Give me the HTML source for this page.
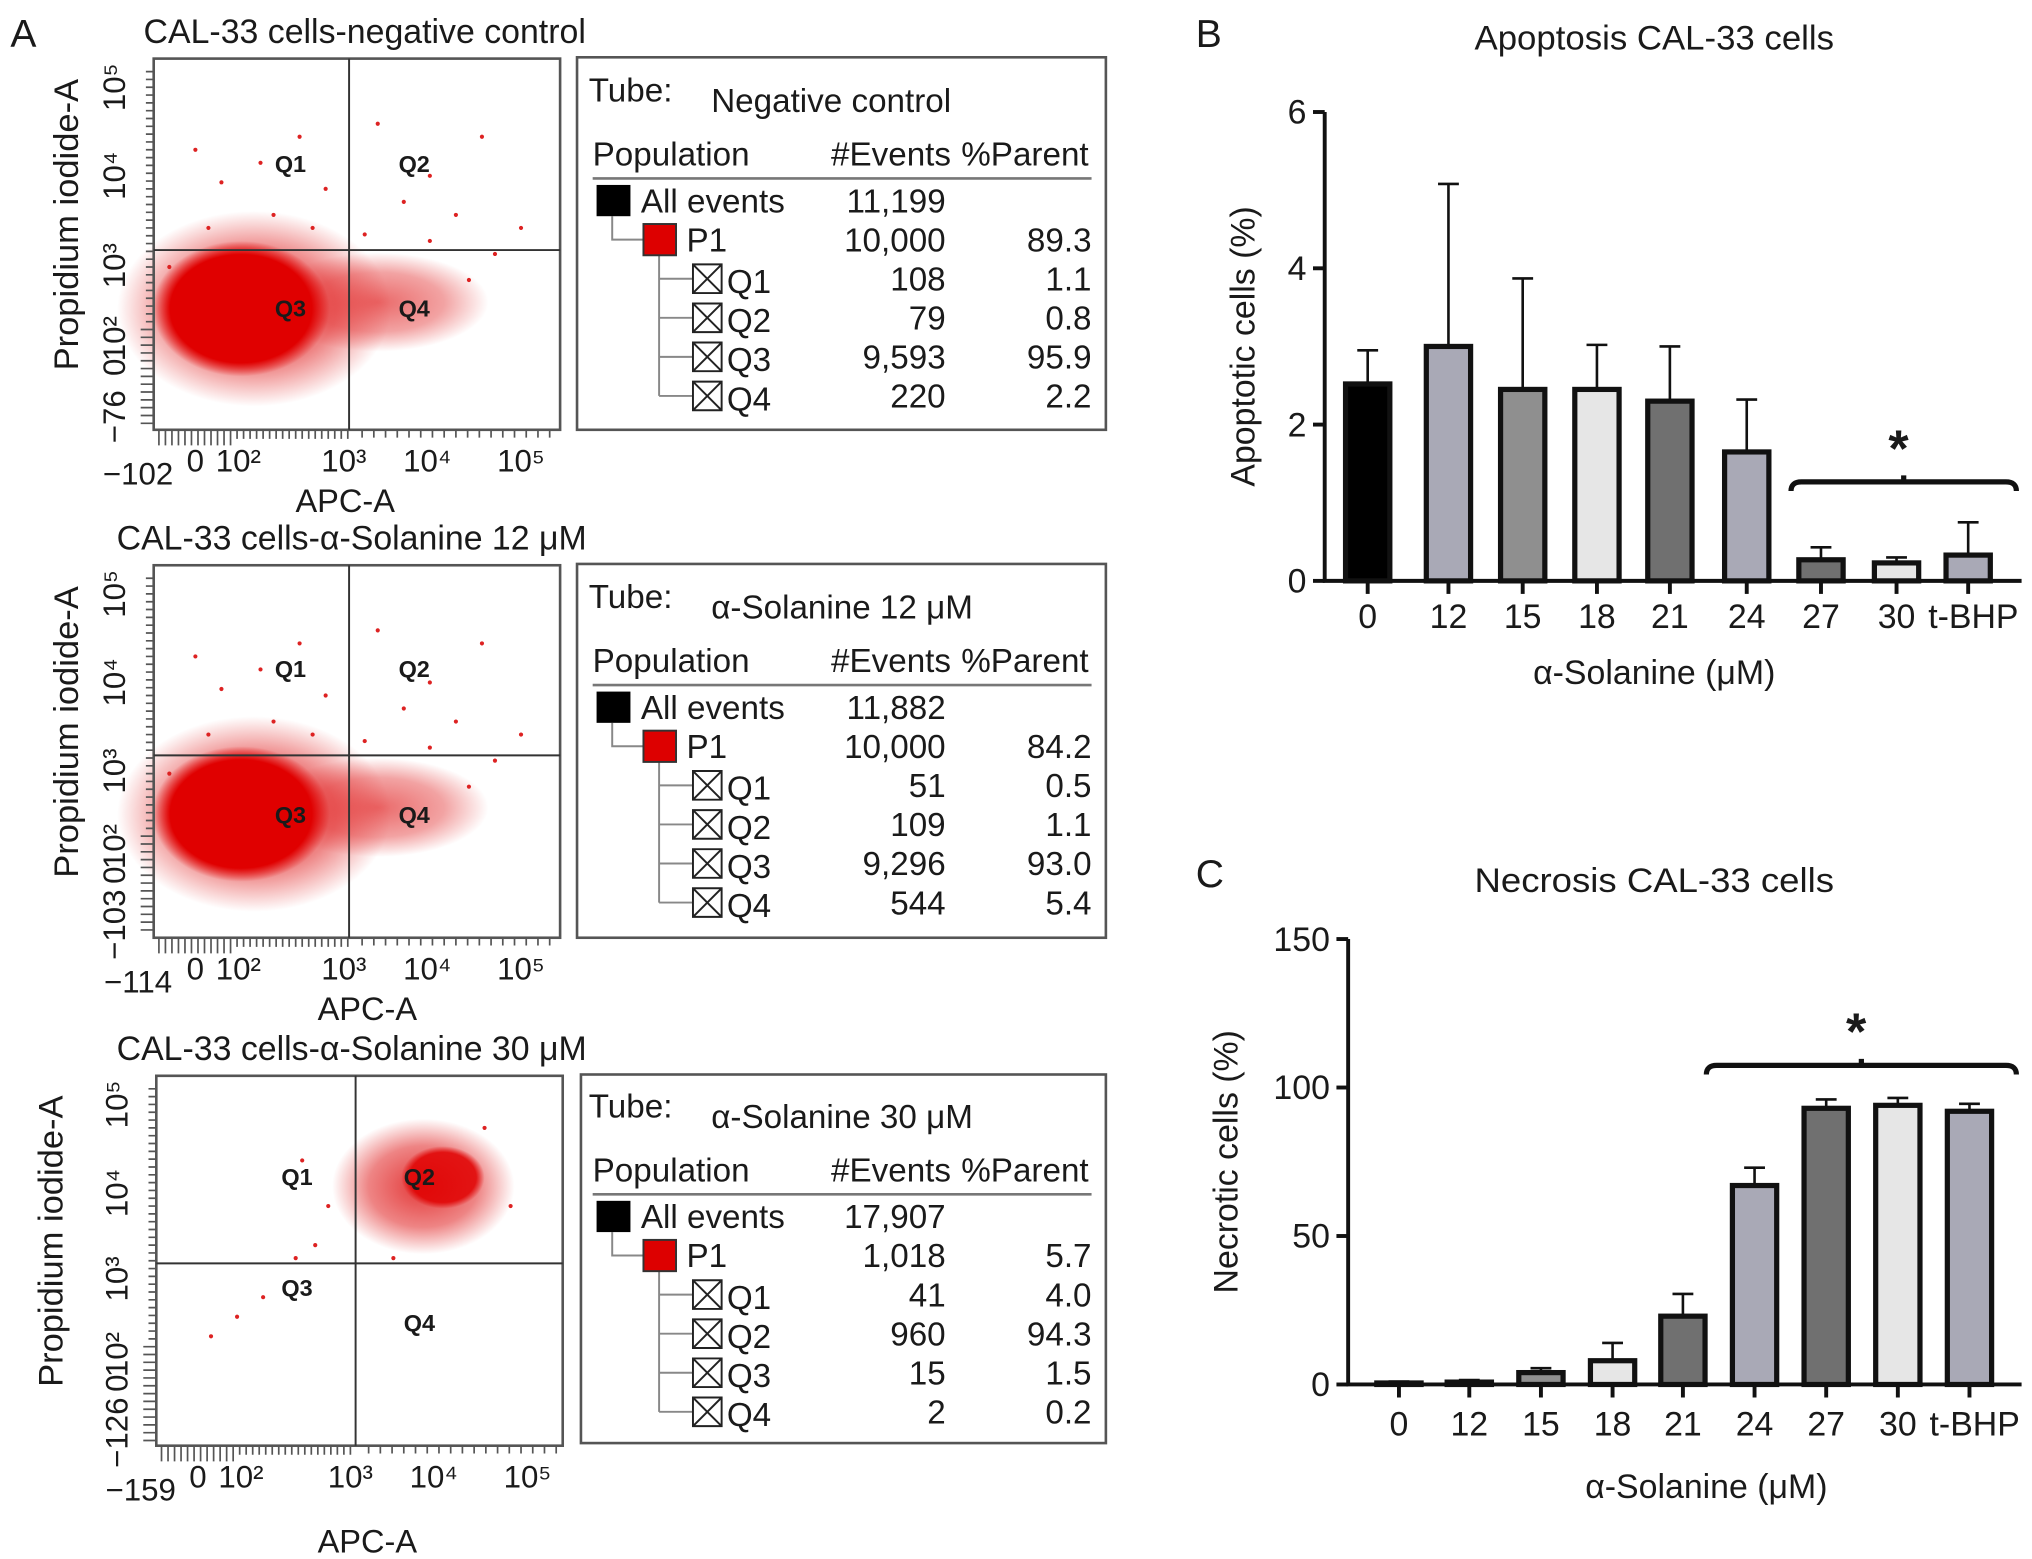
<!DOCTYPE html>
<html><head><meta charset="utf-8"><style>
html,body{margin:0;padding:0;background:#fff;width:2032px;height:1559px;overflow:hidden}
svg{display:block}
text{font-family:"Liberation Sans",Arial,sans-serif;fill:#1a1a1a}
</style></head><body>
<svg id="fig" width="2032" height="1559" viewBox="0 0 1560 1197" preserveAspectRatio="none">
<defs>
<radialGradient id="blob" cx="50%" cy="50%" r="50%">
<stop offset="0" stop-color="#e00000" stop-opacity="1"/>
<stop offset="0.8" stop-color="#e00000" stop-opacity="1"/>
<stop offset="1" stop-color="#e00000" stop-opacity="0"/>
</radialGradient>
<radialGradient id="blob2" cx="50%" cy="50%" r="50%">
<stop offset="0" stop-color="#e02020" stop-opacity="0.9"/>
<stop offset="0.6" stop-color="#e02020" stop-opacity="0.55"/>
<stop offset="1" stop-color="#e02020" stop-opacity="0"/>
</radialGradient>
</defs>
<text x="8" y="36" font-size="30">A</text>
<text x="918" y="36" font-size="30">B</text>
<text x="918" y="681" font-size="30">C</text>
<g id="flows"></g>
<g id="chartB"></g>
<g id="chartC"></g>
</svg>
<script>
const NS='http://www.w3.org/2000/svg';
function mk(parent,tag,attrs,txt){const e=document.createElementNS(NS,tag);for(const k in attrs)e.setAttribute(k,attrs[k]);if(txt!==undefined)e.textContent=txt;parent.appendChild(e);return e;}

// ---------- Bar chart data ----------
const categories=['0','12','15','18','21','24','27','30','t-BHP'];
const apoptosisValues=[2.52,3.0,2.45,2.45,2.3,1.65,0.27,0.23,0.33];
const apoptosisErrors=[0.43,2.08,1.42,0.57,0.7,0.67,0.16,0.07,0.42];
const apoptosisTicks=[0,2,4,6];
const necrosisValues=[0.5,0.8,4,8,23,67,93,94,92];
const necrosisErrors=[0.5,0.7,1.5,6,7.5,6,3,2.5,2.5];
const necrosisTicks=[0,50,100,150];
const barColors=['#000000','#a9a9b6','#8f8f8f','#e6e6e6','#707070','#a9a9b6','#707070','#e6e6e6','#a9a9b6'];

function barChart(g,cfg){
  const {x0,x1,yBase,yTop,max,ticks,vals,errs,centers,title,titleX,titleY,ylab,ylabX,xlab,xlabX,xlabY,tickY,br,name}=cfg;
  const ys=v=>yBase-(v/max)*(yBase-yTop);
  const t=mk(g,'text',{x:titleX,y:titleY,'font-size':26.5,'text-anchor':'middle',textLength:276,lengthAdjust:'spacingAndGlyphs'},title);
  
  
  const yl=mk(g,'text',{x:0,y:0,'font-size':26,'text-anchor':'middle',transform:`translate(${ylabX},${(yBase+yTop)/2}) rotate(-90)`},ylab);
  
  
  const xl=mk(g,'text',{x:xlabX,y:xlabY,'font-size':26,'text-anchor':'middle'},xlab);
  
  
  const ax=mk(g,'path',{d:`M${x0},${yTop} V${yBase} H${x1}`,stroke:'#111','stroke-width':3,fill:'none'});
  
  
  ticks.forEach(tv=>{
    const y=ys(tv);
    mk(g,'line',{x1:x0-9,x2:x0,y1:y,y2:y,stroke:'#111','stroke-width':3});
    const tl=mk(g,'text',{x:x0-14,y:y+9,'font-size':26,'text-anchor':'end'},String(tv));
    
    
  });
  categories.forEach((c,i)=>{
    const cx=centers[i],v=vals[i],e=errs[i],w=34;
    const ey=ys(v+e);
    const eb=mk(g,'path',{d:`M${cx},${ys(v)} V${ey} M${cx-8},${ey} H${cx+8}`,stroke:'#111','stroke-width':2,fill:'none'});
    
    
    const r=mk(g,'rect',{x:cx-w/2,y:ys(v),width:w,height:yBase-ys(v),fill:barColors[i],stroke:'#111','stroke-width':4});
    
    
    mk(g,'line',{x1:cx,x2:cx,y1:yBase,y2:yBase+10,stroke:'#111','stroke-width':3});
    const tl=mk(g,'text',{x:cx+(c==='t-BHP'?4:0),y:tickY,'font-size':26,'text-anchor':'middle'},c);
    
    
  });
  const b=mk(g,'path',{d:`M${br[0]},${br[2]+7} Q${br[0]},${br[2]} ${br[0]+8},${br[2]} H${br[1]-8} Q${br[1]},${br[2]} ${br[1]},${br[2]+7} M${(br[0]+br[1])/2},${br[2]} v-5`,stroke:'#111','stroke-width':4,fill:'none'});
  
  
  const s=mk(g,'text',{x:(br[0]+br[1])/2-4,y:br[2]-12,'font-size':40,'font-weight':'bold','text-anchor':'middle'},'*');
  
  
}
barChart(document.getElementById('chartB'),{x0:1017,x1:1552,yBase:446,yTop:86,max:6,ticks:apoptosisTicks,vals:apoptosisValues,errs:apoptosisErrors,
 centers:[1050,1112,1169,1226,1282,1341,1398,1456,1511],title:'Apoptosis CAL-33 cells',titleX:1270,titleY:38,ylab:'Apoptotic cells (%)',ylabX:963,
 xlab:'α-Solanine (μM)',xlabX:1270,xlabY:525,tickY:482,br:[1375,1548,370],name:'apoptosis'});
barChart(document.getElementById('chartC'),{x0:1035,x1:1552,yBase:1063,yTop:721,max:150,ticks:necrosisTicks,vals:necrosisValues,errs:necrosisErrors,
 centers:[1074,1128,1183,1238,1292,1347,1402,1457,1512],title:'Necrosis CAL-33 cells',titleX:1270,titleY:685,ylab:'Necrotic cells (%)',ylabX:950,
 xlab:'α-Solanine (μM)',xlabX:1310,xlabY:1150,tickY:1102,br:[1310,1548,818],name:'necrosis'});

// ---------- Flow cytometry panels ----------
const flowPanels=[
 {oy:0,title:'CAL-33 cells-negative control',tube:'Negative control',box:[118,45,430,330],vx:268,hy:192,yneg:'−76',xneg:'−102',
  rows:[['All events','11,199',''],['P1','10,000','89.3'],['Q1','108','1.1'],['Q2','79','0.8'],['Q3','9,593','95.9'],['Q4','220','2.2']],tbl:[443,44,849,330],cloud:'low',
  q:[[223,132],[318,132],[223,243],[318,243]]},
 {oy:389,title:'CAL-33 cells-α-Solanine 12 μM',tube:'α-Solanine 12 μM',box:[118,434,430,720],vx:268,hy:580,yneg:'−103',xneg:'−114',
  rows:[['All events','11,882',''],['P1','10,000','84.2'],['Q1','51','0.5'],['Q2','109','1.1'],['Q3','9,296','93.0'],['Q4','544','5.4']],tbl:[443,433,849,720],cloud:'low',
  q:[[223,520],[318,520],[223,632],[318,632]]},
 {oy:780,title:'CAL-33 cells-α-Solanine 30 μM',tube:'α-Solanine 30 μM',box:[120,826,432,1110],vx:273,hy:970,yneg:'−126',xneg:'−159',
  rows:[['All events','17,907',''],['P1','1,018','5.7'],['Q1','41','4.0'],['Q2','960','94.3'],['Q3','15','1.5'],['Q4','2','0.2']],tbl:[446,825,849,1108],cloud:'high',
  q:[[228,910],[322,910],[228,995],[322,1022]]}
];
const fg=document.getElementById('flows');
flowPanels.forEach((p,pi)=>{
  const g=mk(fg,'g',{});
  
  
  const [bx0,by0,bx1,by1]=p.box;
  const tt=mk(g,'text',{x:pi===0?280:270,y:by0-12,'font-size':26,'text-anchor':'middle'},p.title);
  
  
  if(p.cloud==='low'){
    const cy=p.hy+45;
    mk(g,'ellipse',{cx:290,cy:cy-5,rx:85,ry:38,fill:'url(#blob2)',opacity:0.75});
    mk(g,'ellipse',{cx:195,cy:cy,rx:105,ry:75,fill:'url(#blob2)'});
    mk(g,'ellipse',{cx:185,cy:cy,rx:68,ry:52,fill:'url(#blob)'});
  }else{
    mk(g,'ellipse',{cx:325,cy:by0+85,rx:70,ry:52,fill:'url(#blob2)'});
    mk(g,'ellipse',{cx:340,cy:by0+78,rx:32,ry:24,fill:'url(#blob)',opacity:0.85});
  }
  const dots=p.cloud==='low'?[[150,70],[170,95],[200,80],[230,60],[250,100],[290,50],[310,110],[330,90],[350,120],[370,60],[210,120],[240,130],[330,140],[360,170],[380,150],[400,130],[160,130],[130,160],[280,135]]
   :[[230,65],[250,100],[225,140],[180,185],[160,200],[200,170],[240,130],[300,140],[370,40],[390,100]];
  dots.forEach(d=>mk(g,'circle',{cx:bx0+d[0]-118,cy:by0+d[1],r:1.6,fill:'#d22'}));
  const bxr=mk(g,'rect',{x:bx0,y:by0,width:bx1-bx0,height:by1-by0,fill:'none',stroke:'#555','stroke-width':2});
  
  
  mk(g,'line',{x1:p.vx,x2:p.vx,y1:by0,y2:by1,stroke:'#333','stroke-width':1.5});
  mk(g,'line',{x1:bx0,x2:bx1,y1:p.hy,y2:p.hy,stroke:'#333','stroke-width':1.5});
  ['Q1','Q2','Q3','Q4'].forEach((qn,qi)=>{
    const t=mk(g,'text',{x:p.q[qi][0],y:p.q[qi][1],'font-size':18,'text-anchor':'middle','font-weight':'bold'},qn);
    
    
  });
  let tk='';
  for(let x=bx0+4;x<p.vx;x+=5) tk+=`M${x},${by1} v${(x<bx0+60)?12:7} `;
  for(let x=p.vx+10;x<bx1;x+=9) tk+=`M${x},${by1} v6 `;
  for(let y=by0+10;y<by1;y+=6) tk+=`M${bx0},${y} h-${(y>by1-80)?10:6} `;
  mk(g,'path',{d:tk,stroke:'#555','stroke-width':1.3});
  const yl=[[p.yneg,by1-10],['0',by1-48],['10²',by1-70],['10³',p.hy+12],['10⁴',by0+90],['10⁵',by0+22]];
  yl.forEach(l=>{const t=mk(g,'text',{x:0,y:0,'font-size':24,'text-anchor':'middle',transform:`translate(${bx0-22},${l[1]}) rotate(-90)`},l[0]);
    
    });
  const xls=[[p.xneg,bx0-12,by1+42],['0',bx0+32,by1+32],['10²',bx0+65,by1+32],['10³',p.vx-4,by1+32],['10⁴',p.vx+60,by1+32],['10⁵',p.vx+132,by1+32]];
  xls.forEach(l=>{const t=mk(g,'text',{x:l[1],y:l[2],'font-size':24,'text-anchor':'middle'},l[0]);
    
    });
  const xa=mk(g,'text',{x:pi===0?265:282,y:by1+(pi===2?82:63),'font-size':25,'text-anchor':'middle'},'APC-A');
  
  
  const ya=mk(g,'text',{x:0,y:0,'font-size':26.5,'text-anchor':'middle',transform:`translate(${pi===2?48:60},${(by0+by1)/2-15}) rotate(-90)`},'Propidium iodide-A');
  
  
  const [tx0,ty0,tx1,ty1]=p.tbl, oy=p.oy;
  const tb=mk(g,'rect',{x:tx0,y:ty0,width:tx1-tx0,height:ty1-ty0,fill:'#fff',stroke:'#555','stroke-width':2});
  
  
  const T=(s,x,y,a,fs,nm)=>{const t=mk(g,'text',{x:x,y:y+oy,'font-size':fs||25.5,'text-anchor':a||'start'},s);
    
    return t;};
  T('Tube:',452,78,'start',25.5,'tube-label');
  T(p.tube,546,86,'start',25.5,'tube-name');
  T('Population',455,127,'start',25.5,'header-population');
  T('#Events',638,127,'start',25.5,'header-events');
  T('%Parent',738,127,'start',25.5,'header-parent');
  mk(g,'line',{x1:455,x2:838,y1:137+oy,y2:137+oy,stroke:'#777','stroke-width':2});
  mk(g,'path',{d:`M470,${166+oy} V${184+oy} H494 M506,${196+oy} V${304+oy} M506,${214+oy} H532 M506,${244+oy} H532 M506,${274+oy} H532 M506,${304+oy} H532`,stroke:'#888','stroke-width':1.5,fill:'none'});
  mk(g,'rect',{x:458,y:142+oy,width:26,height:24,fill:'#000'});
  mk(g,'rect',{x:494,y:172+oy,width:25,height:24,fill:'#d00',stroke:'#333','stroke-width':1.5});
  const rowsY=[163,193,223,253,283,313];
  p.rows.forEach((r,i)=>{
    const y=rowsY[i];
    if(i>=2){mk(g,'path',{d:`M532,${y-20+oy} h22 v22 h-22 z M532,${y-20+oy} l22,22 M554,${y-20+oy} l-22,22`,stroke:'#222','stroke-width':1.5,fill:'#fff'});}
    const lx=i===0?492:(i===1?527:558);
    T(r[0],lx,y+(i>=2?2:0),'start',25.5,'row-label');
    T(r[1],726,y,'end',25.5,'row-events');
    if(r[2])T(r[2],838,y,'end',25.5,'row-parent');
  });
});
</script>
</body></html>
